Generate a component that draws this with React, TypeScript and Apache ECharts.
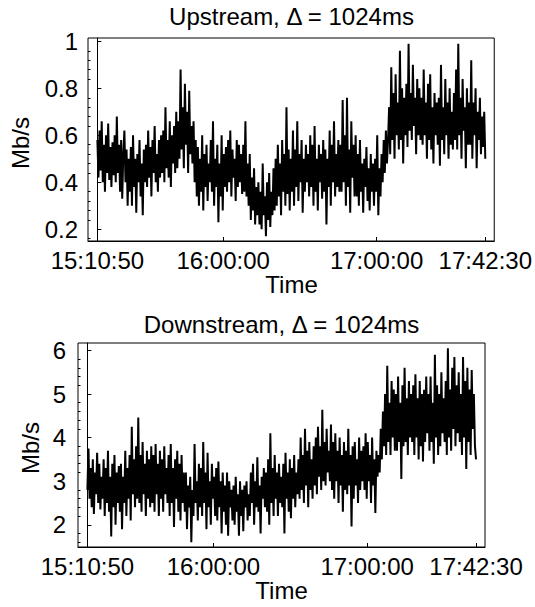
import { useEffect, useRef } from "react";
import * as echarts from "echarts";

// ---- data ----
const startTime = "15:10:50";
const endTime = "17:42:30";
const timeTickLabels = ["15:10:50", "16:00:00", "17:00:00", "17:42:30"];

const upTitle = "Upstream, \u0394 = 1024ms";
const downTitle = "Downstream, \u0394 = 1024ms";
const xName = "Time";
const yName = "Mb/s";

const upMajorTicks = [0.2, 0.4, 0.6, 0.8, 1];
const upMinorTicks = [0.16, 0.24, 0.28, 0.32, 0.36, 0.44, 0.48, 0.52, 0.56, 0.64, 0.68, 0.72, 0.76, 0.84, 0.88, 0.92, 0.96];
const downMajorTicks = [2, 3, 4, 5, 6];
const downMinorTicks = [1.6, 1.8, 2.2, 2.4, 2.6, 2.8, 3.2, 3.4, 3.6, 3.8, 4.2, 4.4, 4.6, 4.8, 5.2, 5.4, 5.6, 5.8];

const upstream = [
  0.58, 0.42, 0.62, 0.45, 0.66, 0.40, 0.56, 0.36, 0.60, 0.44, 0.65, 0.41, 0.55, 0.38, 0.57,
  0.43, 0.60, 0.40, 0.68, 0.44, 0.56, 0.36, 0.58, 0.33, 0.52, 0.62, 0.40, 0.54, 0.30, 0.50,
  0.36, 0.55, 0.30, 0.60, 0.38, 0.50, 0.27, 0.52, 0.40, 0.58, 0.34, 0.48, 0.26, 0.54, 0.40,
  0.56, 0.38, 0.62, 0.42, 0.55, 0.34, 0.58, 0.44, 0.64, 0.40, 0.52, 0.36, 0.58, 0.42, 0.60,
  0.44, 0.62, 0.40, 0.72, 0.46, 0.58, 0.42, 0.66, 0.38, 0.60, 0.48, 0.64, 0.44, 0.70, 0.46,
  0.66, 0.50, 0.88, 0.54, 0.72, 0.46, 0.82, 0.56, 0.70, 0.44, 0.79, 0.52, 0.64, 0.48, 0.66,
  0.40, 0.58, 0.34, 0.55, 0.30, 0.50, 0.36, 0.60, 0.28, 0.52, 0.38, 0.56, 0.32, 0.48, 0.40,
  0.58, 0.36, 0.66, 0.30, 0.50, 0.38, 0.56, 0.23, 0.48, 0.34, 0.60, 0.28, 0.52, 0.38, 0.55,
  0.36, 0.58, 0.40, 0.62, 0.34, 0.54, 0.42, 0.50, 0.32, 0.58, 0.38, 0.56, 0.40, 0.52, 0.35,
  0.56, 0.36, 0.66, 0.34, 0.48, 0.30, 0.52, 0.24, 0.42, 0.28, 0.46, 0.22, 0.38, 0.26, 0.40,
  0.22, 0.36, 0.20, 0.48, 0.26, 0.34, 0.17, 0.40, 0.24, 0.44, 0.21, 0.36, 0.26, 0.46, 0.28,
  0.50, 0.30, 0.56, 0.34, 0.48, 0.26, 0.58, 0.36, 0.52, 0.30, 0.72, 0.35, 0.54, 0.28, 0.50,
  0.36, 0.62, 0.30, 0.54, 0.38, 0.66, 0.32, 0.52, 0.40, 0.58, 0.27, 0.50, 0.36, 0.56, 0.40,
  0.52, 0.34, 0.60, 0.38, 0.56, 0.30, 0.64, 0.36, 0.50, 0.28, 0.56, 0.40, 0.52, 0.33, 0.58,
  0.36, 0.54, 0.22, 0.50, 0.38, 0.62, 0.30, 0.56, 0.40, 0.66, 0.34, 0.52, 0.38, 0.58, 0.36,
  0.56, 0.36, 0.75, 0.40, 0.60, 0.30, 0.76, 0.38, 0.54, 0.27, 0.66, 0.42, 0.56, 0.34, 0.60,
  0.34, 0.52, 0.30, 0.58, 0.36, 0.48, 0.27, 0.50, 0.38, 0.55, 0.32, 0.46, 0.28, 0.52, 0.36,
  0.48, 0.30, 0.50, 0.36, 0.60, 0.26, 0.46, 0.34, 0.52, 0.40, 0.58, 0.44, 0.62, 0.48, 0.58,
  0.72, 0.52, 0.89, 0.58, 0.78, 0.50, 0.86, 0.60, 0.74, 0.54, 0.96, 0.58, 0.80, 0.48, 0.76,
  0.60, 0.82, 0.55, 0.99, 0.62, 0.78, 0.58, 0.90, 0.64, 0.76, 0.52, 0.84, 0.60, 0.80, 0.58,
  0.76, 0.56, 0.88, 0.60, 0.74, 0.50, 0.82, 0.58, 0.86, 0.54, 0.72, 0.48, 0.78, 0.60, 0.74,
  0.56, 0.76, 0.47, 0.90, 0.58, 0.72, 0.52, 0.84, 0.60, 0.74, 0.50, 0.80, 0.56, 0.70, 0.54,
  0.78, 0.58, 0.88, 0.54, 0.99, 0.60, 0.76, 0.50, 0.84, 0.62, 0.72, 0.46, 0.80, 0.56, 0.74,
  0.56, 0.92, 0.50, 0.74, 0.60, 0.80, 0.46, 0.70, 0.58, 0.76, 0.52, 0.68, 0.55, 0.70, 0.50,
];

const downstream = [
  2.8, 3.75, 2.6, 3.3, 2.4, 3.5, 2.25, 3.2, 2.7, 3.65, 2.5, 3.4, 2.35, 3.1, 2.6,
  3.5, 2.2, 3.3, 2.5, 3.7, 2.3, 3.1, 1.73, 3.4, 2.4, 3.6, 2.0, 3.2, 2.5, 3.35,
  2.3, 3.4, 1.9, 3.1, 2.5, 3.7, 2.2, 3.3, 2.6, 3.6, 2.1, 4.25, 2.7, 3.5, 2.4,
  3.8, 2.6, 4.46, 2.5, 3.6, 2.3, 3.9, 2.7, 3.4, 2.2, 3.7, 2.6, 3.5, 2.4, 3.8,
  2.5, 3.6, 2.3, 3.85, 2.7, 3.4, 2.2, 3.7, 2.6, 3.5, 2.3, 3.8, 2.7, 3.3, 2.5,
  3.6, 2.2, 3.85, 2.5, 3.3, 1.95, 3.5, 2.6, 3.7, 2.3, 3.4, 2.1, 3.6, 2.5, 3.2,
  2.3, 3.2, 1.9, 2.9, 2.4, 3.1, 1.6, 2.8, 2.2, 3.85, 2.5, 3.0, 2.1, 3.4, 2.4,
  3.3, 2.2, 3.9, 2.5, 3.2, 1.9, 3.65, 2.4, 3.0, 2.0, 3.4, 2.6, 3.1, 2.2, 3.3,
  2.1, 3.45, 2.4, 3.0, 1.8, 3.2, 2.3, 2.9, 2.0, 3.2, 1.75, 3.0, 2.4, 2.8, 2.1,
  2.9, 2.0, 3.1, 2.3, 2.7, 1.75, 3.0, 2.2, 2.8, 1.85, 2.9, 2.4, 3.0, 2.1, 2.7,
  2.2, 3.2, 2.5, 3.4, 2.0, 3.0, 2.4, 3.55, 2.3, 2.9, 1.8, 3.1, 2.6, 3.3, 2.4,
  3.2, 2.3, 3.5, 2.0, 4.1, 2.5, 3.3, 2.2, 3.6, 2.6, 3.2, 2.2, 3.4, 2.5, 3.1,
  2.4, 3.4, 1.8, 3.65, 2.6, 3.2, 2.3, 3.5, 2.15, 3.3, 2.6, 3.6, 2.4, 3.2, 2.7,
  3.5, 2.6, 4.0, 2.8, 3.6, 2.5, 4.2, 2.9, 3.7, 2.4, 3.9, 2.8, 3.5, 2.6, 3.8,
  2.9, 4.0, 2.7, 4.25, 3.1, 3.8, 2.8, 4.64, 3.0, 3.9, 2.9, 4.2, 3.2, 3.7, 3.0,
  4.3, 2.8, 3.9, 2.6, 4.1, 3.0, 3.7, 2.5, 4.0, 2.9, 3.6, 2.3, 3.9, 2.8, 3.7,
  2.7, 4.2, 2.9, 3.6, 1.96, 3.8, 2.6, 3.9, 2.9, 3.5, 2.5, 4.0, 2.8, 3.7, 3.0,
  3.8, 2.8, 4.1, 2.6, 3.9, 3.0, 3.6, 2.5, 4.0, 2.9, 3.5, 2.27, 3.7, 3.1, 3.6,
  3.2, 4.2, 3.5, 4.6, 3.8, 5.0, 3.6, 5.65, 3.9, 4.8, 3.6, 5.3, 4.0, 5.1, 3.7,
  5.0, 3.7, 5.4, 3.9, 4.8, 3.05, 5.2, 3.8, 5.6, 3.9, 4.9, 3.6, 5.3, 4.0, 5.0,
  3.9, 5.2, 3.6, 5.45, 4.0, 4.9, 3.5, 5.3, 3.8, 5.0, 3.45, 5.1, 3.9, 5.4, 4.1,
  5.0, 3.7, 5.4, 3.9, 4.8, 3.4, 5.9, 4.0, 5.2, 3.6, 5.0, 3.8, 5.5, 4.1, 4.9,
  3.9, 5.3, 3.6, 6.05, 4.0, 5.1, 3.7, 5.6, 4.2, 5.85, 3.8, 5.2, 4.1, 5.5, 3.9,
  5.0, 3.6, 5.85, 4.0, 5.3, 3.28, 5.6, 3.9, 5.1, 3.6, 5.55, 4.2, 5.0, 3.8, 3.5,
];

// ---- helpers ----
const toSec = (s: string) => {
  const [h, m, x] = s.split(":").map(Number);
  return h * 3600 + m * 60 + x;
};
const T0 = toSec(startTime);
const SPAN = toSec(endTime) - T0;
const pad2 = (n: number) => (n < 10 ? "0" : "") + n;
const fmtTime = (off: number) => {
  const t = Math.round(off + T0);
  return `${Math.floor(t / 3600)}:${pad2(Math.floor((t % 3600) / 60))}:${pad2(t % 60)}`;
};
const tickOffsets = timeTickLabels.map((s) => toSec(s) - T0);
const toSeries = (arr: number[]) => arr.map((v, i) => [(i * SPAN) / (arr.length - 1), v]);

const FONT = "'Liberation Sans', Arial, Helvetica, sans-serif";
const FS = 24;
const BLACK = "#000";

const G1 = { left: 88, top: 38, width: 407, height: 203 };
const G2 = { left: 78, top: 343, width: 407, height: 204 };

export default function App() {
  const ref = useRef<HTMLDivElement>(null);
  useEffect(() => {
    if (!ref.current) return;
    const chart = echarts.init(ref.current, undefined, { renderer: "svg" });
    const xAxisBase = (gridIndex: number) => ({
      type: "value" as const,
      gridIndex,
      min: -220,
      max: SPAN + 210,
      axisLine: { show: true, lineStyle: { color: BLACK, width: 1 } },
      axisTick: { show: true, inside: true, length: 4, customValues: tickOffsets, lineStyle: { color: BLACK } },
      axisLabel: {
        show: true,
        customValues: tickOffsets,
        formatter: (v: number) => fmtTime(v),
        fontSize: FS,
        fontFamily: FONT,
        color: BLACK,
        margin: 7,
        hideOverlap: false,
      },
      splitLine: { show: false },
    });
    const yMajor = (gridIndex: number, min: number, max: number, ticks: number[], margin: number) => ({
      type: "value" as const,
      gridIndex,
      position: "left" as const,
      min,
      max,
      axisLine: { show: true, lineStyle: { color: BLACK, width: 1 } },
      axisTick: { show: true, inside: true, length: 4, customValues: ticks, lineStyle: { color: BLACK } },
      axisLabel: {
        show: true,
        customValues: ticks,
        fontSize: FS,
        fontFamily: FONT,
        color: BLACK,
        margin,
      },
      splitLine: { show: false },
    });
    const yMinor = (gridIndex: number, min: number, max: number, ticks: number[]) => ({
      type: "value" as const,
      gridIndex,
      position: "left" as const,
      min,
      max,
      axisLine: { show: false },
      axisTick: { show: true, inside: true, length: 2.5, customValues: ticks, lineStyle: { color: BLACK } },
      axisLabel: { show: false },
      splitLine: { show: false },
    });
    const textStyle = { fontSize: FS, fontFamily: FONT, fill: BLACK };
    const lineSeries = (xAxisIndex: number, yAxisIndex: number, arr: number[]) => ({
      type: "line" as const,
      xAxisIndex,
      yAxisIndex,
      data: toSeries(arr),
      showSymbol: false,
      symbol: "none",
      lineStyle: { color: BLACK, width: 2, join: "miter" as const, miterLimit: 2 },
      clip: true,
    });
    chart.setOption({
      animation: false,
      backgroundColor: "#fff",
      grid: [
        { ...G1, show: true, borderColor: BLACK, borderWidth: 1, backgroundColor: "transparent" },
        { ...G2, show: true, borderColor: BLACK, borderWidth: 1, backgroundColor: "transparent" },
      ],
      xAxis: [xAxisBase(0), xAxisBase(1)],
      yAxis: [
        yMajor(0, 0.15, 1.0145, upMajorTicks, 10),
        yMinor(0, 0.15, 1.0145, upMinorTicks),
        yMajor(1, 1.49, 6.17, downMajorTicks, 12),
        yMinor(1, 1.49, 6.17, downMinorTicks),
      ],
      series: [lineSeries(0, 0, upstream), lineSeries(1, 2, downstream)],
      graphic: [
        { type: "text", x: G1.left + G1.width / 2, y: 16, style: { ...textStyle, text: upTitle, align: "center", verticalAlign: "middle" } },
        { type: "text", x: G2.left + G2.width / 2, y: 324, style: { ...textStyle, text: downTitle, align: "center", verticalAlign: "middle" } },
        { type: "text", x: G1.left + G1.width / 2, y: 284.5, style: { ...textStyle, text: xName, align: "center", verticalAlign: "middle" } },
        { type: "text", x: G2.left + G2.width / 2, y: 590.5, style: { ...textStyle, text: xName, align: "center", verticalAlign: "middle" } },
        { type: "text", x: 20.5, y: 143, rotation: Math.PI / 2, style: { ...textStyle, text: yName, align: "center", verticalAlign: "middle" } },
        { type: "text", x: 30, y: 448, rotation: Math.PI / 2, style: { ...textStyle, text: yName, align: "center", verticalAlign: "middle" } },
      ],
    });
    return () => chart.dispose();
  }, []);
  return (
    <div style={{ position: "fixed", left: 0, top: 0, width: 535, height: 607, background: "#fff" }}>
      <div ref={ref} style={{ width: 535, height: 607 }} />
    </div>
  );
}
